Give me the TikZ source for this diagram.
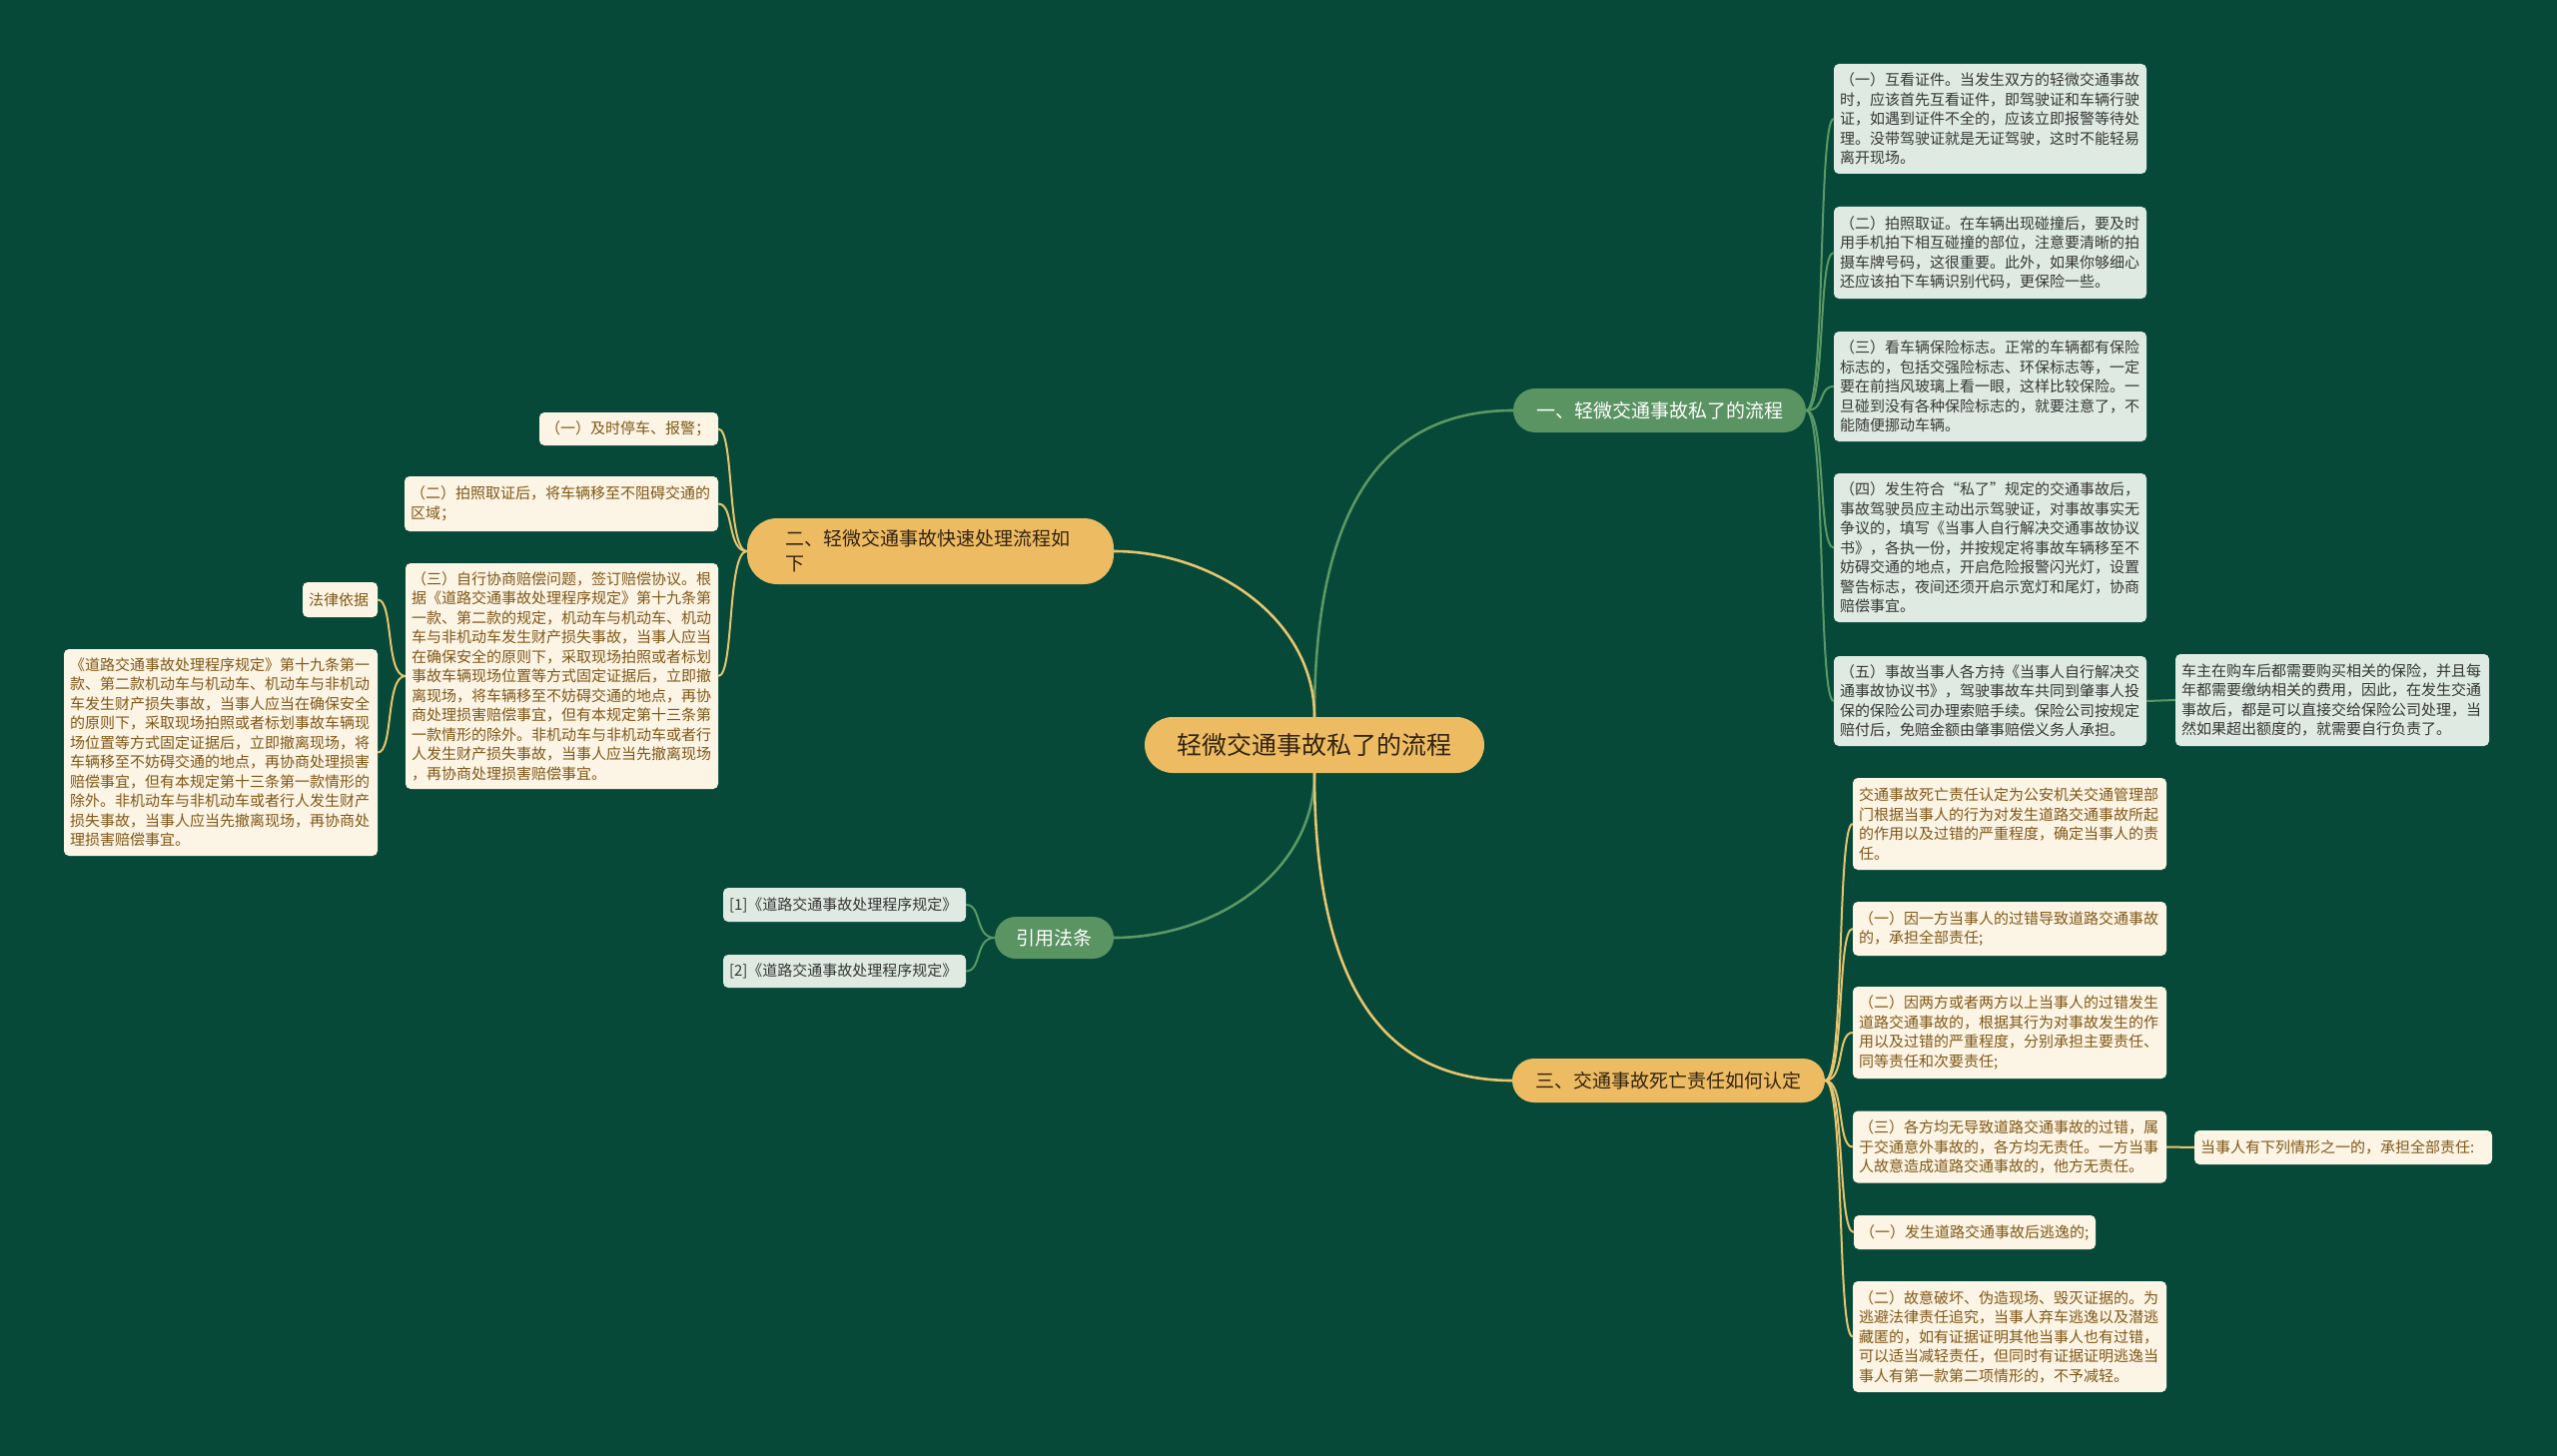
\documentclass[tikz,border=0pt]{standalone}
\usepackage{fontspec}
\newfontfamily\cjk{Noto Sans CJK SC}
\definecolor{bg}{RGB}{6,73,57}
\definecolor{gold}{RGB}{237,187,98}
\definecolor{midgreen}{RGB}{90,148,98}
\definecolor{leafgreen}{RGB}{222,234,226}
\definecolor{leafcream}{RGB}{252,244,228}
\definecolor{textdark}{RGB}{55,55,55}
\definecolor{textbrown}{RGB}{128,88,24}
\definecolor{titledark}{RGB}{50,36,16}
\definecolor{linegreen}{RGB}{92,152,100}
\definecolor{linegold}{RGB}{232,196,110}
\tikzset{
  leafg/.style={fill=leafgreen, text=textdark, rounded corners=5pt, align=left,
    inner xsep=6pt, inner ysep=4pt, font=\cjk\fontsize{15}{19.5}\selectfont},
  leafc/.style={leafg, fill=leafcream, text=textbrown},
  pillgold/.style={fill=gold, text=titledark, rounded corners=22pt, inner sep=0pt,
    font=\cjk\fontsize{19}{25}\selectfont},
  pillgreen/.style={pillgold, fill=midgreen, text=white},
  gmain/.style={draw=linegreen, line width=2.6pt},
  ymain/.style={draw=linegold, line width=2.6pt},
  gsub/.style={draw=linegreen, line width=2pt},
  ysub/.style={draw=linegold, line width=2pt},
}
\begin{document}
\begin{tikzpicture}[x=1pt,y=-1pt]
\fill[bg] (0,0) rectangle (2560,1458);
\useasboundingbox (0,0) rectangle (2560,1458);

% root and main branches
\node[pillgold, rounded corners=28pt, minimum width=340pt, minimum height=56pt,
  font=\cjk\fontsize{25}{30}\selectfont] (root) at (1316,746) {轻微交通事故私了的流程};
\node[pillgreen, minimum width=293pt, minimum height=44pt] (b1) at (1661.5,411) {一、轻微交通事故私了的流程};
\node[pillgold, rounded corners=30pt, text width=290pt, inner xsep=38.5pt, minimum height=66pt, align=left] (b2) at (931.5,552) {二、轻微交通事故快速处理流程如\\下};
\node[pillgreen, rounded corners=21pt, minimum width=119pt, minimum height=42pt] (b3) at (1055.5,939) {引用法条};
\node[pillgold, minimum width=313pt, minimum height=44pt] (b4) at (1670.5,1082) {三、交通事故死亡责任如何认定};

% branch 1 leaves
\node[leafg, text width=301pt, minimum height=110pt] (a1) at (1992.5,119) {（一）互看证件。当发生双方的轻微交通事故\\时，应该首先互看证件，即驾驶证和车辆行驶\\证，如遇到证件不全的，应该立即报警等待处\\理。没带驾驶证就是无证驾驶，这时不能轻易\\离开现场。};
\node[leafg, text width=301pt, minimum height=92pt] (a2) at (1992.5,253) {（二）拍照取证。在车辆出现碰撞后，要及时\\用手机拍下相互碰撞的部位，注意要清晰的拍\\摄车牌号码，这很重要。此外，如果你够细心\\还应该拍下车辆识别代码，更保险一些。};
\node[leafg, text width=301pt, minimum height=110pt] (a3) at (1992.5,387) {（三）看车辆保险标志。正常的车辆都有保险\\标志的，包括交强险标志、环保标志等，一定\\要在前挡风玻璃上看一眼，这样比较保险。一\\旦碰到没有各种保险标志的，就要注意了，不\\能随便挪动车辆。};
\node[leafg, text width=301pt, minimum height=149pt] (a4) at (1992.5,548.5) {（四）发生符合“私了”规定的交通事故后，\\事故驾驶员应主动出示驾驶证，对事故事实无\\争议的，填写《当事人自行解决交通事故协议\\书》，各执一份，并按规定将事故车辆移至不\\妨碍交通的地点，开启危险报警闪光灯，设置\\警告标志，夜间还须开启示宽灯和尾灯，协商\\赔偿事宜。};
\node[leafg, text width=301pt, minimum height=90pt] (a5) at (1992.5,702) {（五）事故当事人各方持《当事人自行解决交\\通事故协议书》，驾驶事故车共同到肇事人投\\保的保险公司办理索赔手续。保险公司按规定\\赔付后，免赔金额由肇事赔偿义务人承担。};
\node[leafg, text width=302pt, minimum height=92pt] (a5c) at (2335,701) {车主在购车后都需要购买相关的保险，并且每\\年都需要缴纳相关的费用，因此，在发生交通\\事故后，都是可以直接交给保险公司处理，当\\然如果超出额度的，就需要自行负责了。};

% branch 4 leaves
\node[leafc, text width=302pt, minimum height=92pt] (c1) at (2012,825) {交通事故死亡责任认定为公安机关交通管理部\\门根据当事人的行为对发生道路交通事故所起\\的作用以及过错的严重程度，确定当事人的责\\任。};
\node[leafc, text width=302pt, minimum height=54pt] (c2) at (2012,930) {（一）因一方当事人的过错导致道路交通事故\\的，承担全部责任;};
\node[leafc, text width=302pt, minimum height=92pt] (c3) at (2012,1034) {（二）因两方或者两方以上当事人的过错发生\\道路交通事故的，根据其行为对事故发生的作\\用以及过错的严重程度，分别承担主要责任、\\同等责任和次要责任;};
\node[leafc, text width=302pt, minimum height=72pt] (c4) at (2012,1148.5) {（三）各方均无导致道路交通事故的过错，属\\于交通意外事故的，各方均无责任。一方当事\\人故意造成道路交通事故的，他方无责任。};
\node[leafc, text width=286pt, minimum height=34pt] (c4c) at (2346,1149) {当事人有下列情形之一的，承担全部责任:};
\node[leafc, text width=230pt, minimum height=34pt] (c5) at (1977,1234) {（一）发生道路交通事故后逃逸的;};
\node[leafc, text width=302pt, minimum height=111pt] (c6) at (2012,1338.5) {（二）故意破坏、伪造现场、毁灭证据的。为\\逃避法律责任追究，当事人弃车逃逸以及潜逃\\藏匿的，如有证据证明其他当事人也有过错，\\可以适当减轻责任，但同时有证据证明逃逸当\\事人有第一款第二项情形的，不予减轻。};

% branch 2 leaves
\node[leafc, text width=167pt, minimum height=33pt] (d1) at (629.5,429.5) {（一）及时停车、报警；};
\node[leafc, text width=302pt, minimum height=55pt] (d2) at (562,504.5) {（二）拍照取证后，将车辆移至不阻碍交通的\\区域；};
\node[leafc, text width=301pt, minimum height=226pt] (d3) at (562.5,677) {（三）自行协商赔偿问题，签订赔偿协议。根\\据《道路交通事故处理程序规定》第十九条第\\一款、第二款的规定，机动车与机动车、机动\\车与非机动车发生财产损失事故，当事人应当\\在确保安全的原则下，采取现场拍照或者标划\\事故车辆现场位置等方式固定证据后，立即撤\\离现场，将车辆移至不妨碍交通的地点，再协\\商处理损害赔偿事宜，但有本规定第十三条第\\一款情形的除外。非机动车与非机动车或者行\\人发生财产损失事故，当事人应当先撤离现场\\，再协商处理损害赔偿事宜。};
\node[leafc, text width=63pt, minimum height=35pt] (d3a) at (340.5,600.5) {法律依据};
\node[leafc, text width=302pt, minimum height=207pt] (d3b) at (221,753.5) {《道路交通事故处理程序规定》第十九条第一\\款、第二款机动车与机动车、机动车与非机动\\车发生财产损失事故，当事人应当在确保安全\\的原则下，采取现场拍照或者标划事故车辆现\\场位置等方式固定证据后，立即撤离现场，将\\车辆移至不妨碍交通的地点，再协商处理损害\\赔偿事宜，但有本规定第十三条第一款情形的\\除外。非机动车与非机动车或者行人发生财产\\损失事故，当事人应当先撤离现场，再协商处\\理损害赔偿事宜。};

% citations
\node[leafg, text width=231pt, minimum height=34pt] (e1) at (845.5,906) {[1]《道路交通事故处理程序规定》};
\node[leafg, text width=231pt, minimum height=33pt] (e2) at (845.5,972.5) {[2]《道路交通事故处理程序规定》};

% main connectors
\draw[gmain] (root.north) .. controls +(0,-218) and +(-125,0) .. (b1.west);
\draw[ymain] (root.north) .. controls +(0,-98) and +(100,0) .. (b2.east);
\draw[gmain] (root.south) .. controls +(0,100) and +(100,0) .. (b3.east);
\draw[ymain] (root.south) .. controls +(0,218) and +(-125,0) .. (b4.west);

% branch 1 connectors
\foreach \n in {a1,a2,a3,a4,a5}
  \draw[gsub] (b1.east) .. controls +(20,0) and +(-16,0) .. (\n.west);
\draw[gsub] (a5.east) -- (a5c.west);

% branch 4 connectors
\foreach \n in {c1,c2,c3,c4,c5,c6}
  \draw[ysub] (b4.east) .. controls +(20,0) and +(-16,0) .. (\n.west);
\draw[ysub] (c4.east) -- (c4c.west);

% branch 2 connectors
\foreach \n in {d1,d2,d3}
  \draw[ysub] (b2.west) .. controls +(-20,0) and +(16,0) .. (\n.east);
\foreach \n in {d3a,d3b}
  \draw[ysub] (d3.west) .. controls +(-20,0) and +(16,0) .. (\n.east);

% citation connectors
\foreach \n in {e1,e2}
  \draw[gsub] (b3.west) .. controls +(-20,0) and +(16,0) .. (\n.east);
\end{tikzpicture}
\end{document}
